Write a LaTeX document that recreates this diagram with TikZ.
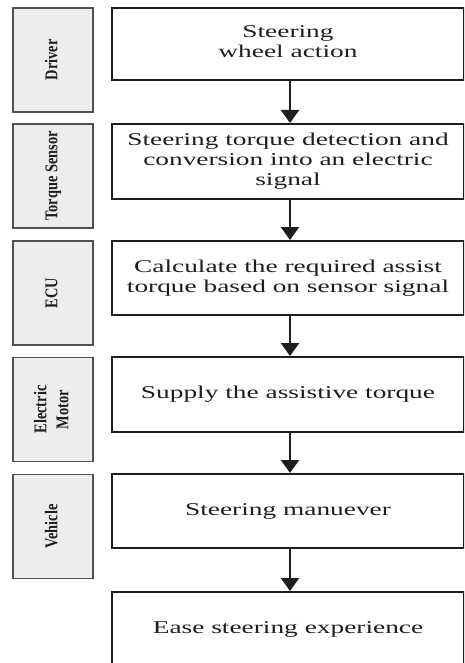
\documentclass[tikz,border=0pt]{standalone}
\usepackage{fontspec}
\setmainfont{Liberation Serif}
\usetikzlibrary{arrows.meta}
\definecolor{ink}{HTML}{1E1E1E}
\definecolor{sidefill}{HTML}{EDEDED}
\definecolor{sideline}{HTML}{505050}
\newcommand{\mtxt}[1]{\scalebox{1.52}[1]{\begin{tabular}{@{}c@{}}#1\end{tabular}}}
\newcommand{\stxt}[1]{\scalebox{0.8}[1]{\begin{tabular}{@{}c@{}}#1\end{tabular}}}
\begin{document}
\begin{tikzpicture}[x=1pt,y=-1pt,
  mainbox/.style={draw=ink,line width=2pt,fill=white,minimum width=352pt,
    inner sep=0pt,text=ink,font=\fontsize{18}{20}\selectfont},
  sidebox/.style={draw=sideline,line width=1.8pt,fill=sidefill,minimum width=80pt,
    minimum height=104pt,inner sep=0pt},
  sidelabel/.style={rotate=90,text=ink,font=\fontsize{18}{22}\selectfont\bfseries},
  flow/.style={draw=ink,line width=2.4pt,-{Triangle[width=18pt,length=13pt]}}]
\clip (0,0) rectangle (464,663);
\fill[white] (0,0) rectangle (464,663);
% side boxes
\node[sidebox] (s1) at (53,60) {};
\node[sidebox] (s2) at (53,176) {};
\node[sidebox] (s3) at (53,293) {};
\node[sidebox] (s4) at (53,409.5) {};
\node[sidebox] (s5) at (53,526.5) {};
\node[sidelabel] (l1) at (s1) {\stxt{Driver}};
\node[sidelabel] (l2) at (s2) {\stxt{Torque Sensor}};
\node[sidelabel] (l3) at (s3) {\stxt{ECU}};
\node[sidelabel] (l4) at (s4) {\stxt{Electric\\Motor}};
\node[sidelabel] (l5) at (s5) {\stxt{Vehicle}};
% main boxes
\node[mainbox,minimum height=72pt] (b1) at (288,44) {\mtxt{Steering\\wheel action}};
\node[mainbox,minimum height=75pt] (b2) at (288,161.5) {\mtxt{Steering torque detection and\\conversion into an electric\\signal}};
\node[mainbox,minimum height=74pt] (b3) at (288,278) {\mtxt{Calculate the required assist\\torque based on sensor signal}};
\node[mainbox,minimum height=75pt] (b4) at (288,394.5) {\mtxt{Supply the assistive torque}};
\node[mainbox,minimum height=74pt] (b5) at (288,511) {\mtxt{Steering manuever}};
\node[mainbox,minimum height=74pt] (b6) at (288,629) {\mtxt{Ease steering experience}};
% arrows
\foreach \a/\b in {b1/b2,b2/b3,b3/b4,b4/b5,b5/b6}
  \draw[flow] ([xshift=2pt]\a.south) -- ([xshift=2pt]\b.north);
\end{tikzpicture}
\end{document}
